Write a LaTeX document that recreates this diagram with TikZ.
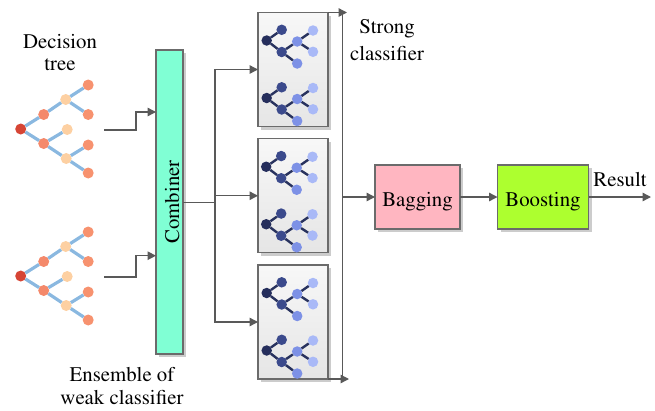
\documentclass[tikz,border=0pt]{standalone}
\usepackage[T1]{fontenc}
\renewcommand{\rmdefault}{ptm}
\usetikzlibrary{arrows.meta,shadows}

\definecolor{linegray}{HTML}{595959}
\definecolor{bordergray}{HTML}{6B6B6B}
\definecolor{shadowgray}{HTML}{CCCCCC}
\definecolor{combfill}{HTML}{80FFD4}
\definecolor{bagfill}{HTML}{FFB6C1}
\definecolor{boostfill}{HTML}{ADFF2F}
% decision tree colours
\definecolor{tedgec}{HTML}{8AB8E0}
\definecolor{troot}{HTML}{D64535}
\definecolor{tmid}{HTML}{F4896B}
\definecolor{tlight}{HTML}{FDD0A2}
\definecolor{tleaf}{HTML}{F7926F}
% classifier icon colours
\definecolor{iedge}{HTML}{28325E}
\definecolor{iroot}{HTML}{252E5C}
\definecolor{ichild}{HTML}{3B4A8C}
\definecolor{imid}{HTML}{7D91E6}
\definecolor{ileaf}{HTML}{A9B9F7}

\tikzset{
  txt/.style={font=\rmfamily\fontsize{20.8}{22.5}\selectfont, inner sep=0pt, align=center},
  conn/.style={draw=linegray, line width=1.4pt},
  arr/.style={conn, -{Triangle[length=8.5pt,width=8.5pt]}},
  shadowed/.style={drop shadow={shadow xshift=3pt, shadow yshift=-3pt, fill=shadowgray, opacity=1}},
  blockbox/.style={draw=bordergray, line width=1.2pt, shadowed, inner sep=0pt, outer sep=0pt},
  boxtext/.style={txt, text height=19.4pt, text depth=0pt},
  clbox/.style={blockbox, top color=white!97!black, bottom color=black!10,
                minimum width=70pt, minimum height=114pt},
  tnode/.style={circle, inner sep=0pt, outer sep=0pt, minimum size=11pt},
  tedge/.style={draw=tedgec, line width=3.2pt},
  inode/.style={circle, inner sep=0pt, outer sep=0pt, minimum size=10.5pt},
  iedgest/.style={draw=iedge, line width=2.4pt},
  dtree/.pic={
    \node[tnode, fill=troot]  (-r)  at (0,0)       {};
    \node[tnode, fill=tmid]   (-a)  at (23,-14.5)  {};
    \node[tnode, fill=tmid]   (-b)  at (23,14.5)   {};
    \node[tnode, fill=tlight] (-c)  at (45,-29.5)  {};
    \node[tnode, fill=tlight] (-d)  at (46.5,0.5)  {};
    \node[tnode, fill=tlight] (-e)  at (45.5,29.5) {};
    \node[tnode, fill=tleaf]  (-l1) at (67.5,-44)  {};
    \node[tnode, fill=tleaf]  (-l2) at (67.5,-14.5){};
    \node[tnode, fill=tleaf]  (-l3) at (67.5,16)   {};
    \node[tnode, fill=tleaf]  (-l4) at (67.5,44)   {};
    \draw[tedge] (-r) -- (-a);
    \draw[tedge] (-r) -- (-b);
    \draw[tedge] (-a) -- (-c);
    \draw[tedge] (-c) -- (-l1);
    \draw[tedge] (-c) -- (-l2);
    \draw[tedge] (-b) -- (-d);
    \draw[tedge] (-b) -- (-e);
    \draw[tedge] (-e) -- (-l3);
    \draw[tedge] (-e) -- (-l4);
  },
  icontree/.pic={
    \node[inode, fill=iroot]  (-r)  at (0,0)        {};
    \node[inode, fill=ichild] (-u)  at (15,-10.7)   {};
    \node[inode, fill=ichild] (-w)  at (15,11.5)    {};
    \node[inode, fill=imid]   (-m)  at (30.5,1)     {};
    \node[inode, fill=imid]   (-bt) at (30.5,23)    {};
    \node[inode, fill=ileaf]  (-t1) at (46.3,-10)   {};
    \node[inode, fill=ileaf]  (-t2) at (46.3,11.3)  {};
    \draw[iedgest] (-r) -- (-u);
    \draw[iedgest] (-r) -- (-w);
    \draw[iedgest] (-w) -- (-m);
    \draw[iedgest] (-w) -- (-bt);
    \draw[iedgest] (-m) -- (-t1);
    \draw[iedgest] (-m) -- (-t2);
  }
}

\begin{document}
\begin{tikzpicture}[x=1pt, y=-1pt]
\useasboundingbox (0,0) rectangle (655,410);

% weak learners
\node[txt] (dtlabel) at (60,52.5) {Decision\\tree};
\pic (wt1) at (20.7,129) {dtree};
\pic (wt2) at (20.7,276) {dtree};
\node[txt] (enslabel) at (122,386) {Ensemble of\\weak classifier};

% combiner
\node[blockbox, fill=combfill, minimum width=27pt, minimum height=304pt] (comb) at (169.5,202) {};
\node[boxtext, rotate=90] (combtext) at (comb.center) {Combiner};

\coordinate (in1) at (104,130);
\coordinate (in2) at (104,277);
\draw[arr] (in1) -- ++(32,0) |- ([yshift=90pt]comb.west);
\draw[arr] (in2) -- ++(32,0) |- ([yshift=-53.7pt]comb.west);

% classifier boxes
\node[clbox] (cl1) at (293,69.5) {};
\node[clbox] (cl2) at (293,195.75) {};
\node[clbox] (cl3) at (293,322) {};
\pic (ic1a) at (266.7,40.5)  {icontree};
\pic (ic1b) at (266.7,98)    {icontree};
\pic (ic2a) at (266.2,166.75) {icontree};
\pic (ic2b) at (266.2,224.25) {icontree};
\pic (ic3a) at (266.7,293)   {icontree};
\pic (ic3b) at (266.7,350.5) {icontree};

\coordinate (split) at (215,202.3);
\draw[conn] (comb.east |- split) -- (split);
\draw[arr] (split) |- (cl1.west);
\draw[arr] (split) |- (cl2.west);
\draw[arr] (split) |- (cl3.west);

% strong classifier bus
\coordinate (vtop) at (342.7,12.5);
\coordinate (vbot) at (342.7,379);
\coordinate (stend) at (347,12.5);
\coordinate (sbend) at (349,379);
\draw[conn] (vtop) -- (vbot);
\draw[arr] (cl1.north east) -- (stend);
\draw[arr] (cl3.south east) -- (sbend);
\node[txt, font=\rmfamily\fontsize{20.8}{26.5}\selectfont] (stlabel) at (387,40) {Strong\\classifier};

% bagging and boosting
\node[blockbox, fill=bagfill, minimum width=85pt, minimum height=64pt, boxtext] (bag) at (417.5,197) {Bagging};
\node[blockbox, fill=boostfill, minimum width=91pt, minimum height=64pt, boxtext] (boost) at (543,197) {Boosting};
\coordinate (res) at (651,197);
\draw[arr] (vtop |- bag.west) -- (bag.west);
\draw[arr] (bag) -- (boost);
\draw[arr] (boost) -- (res);
\node[txt, anchor=base] (reslabel) at (620,186.5) {Result};
\end{tikzpicture}
\end{document}
